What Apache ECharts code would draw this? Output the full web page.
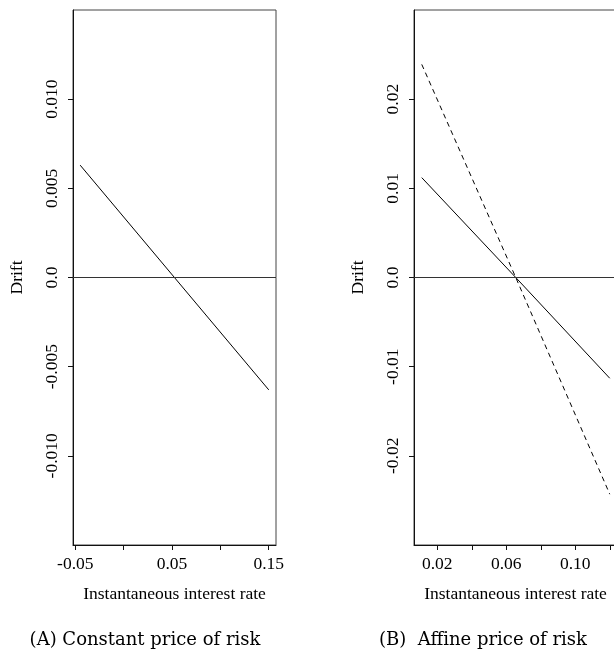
<!DOCTYPE html>
<html>
<head>
<meta charset="utf-8">
<script src="https://cdn.jsdelivr.net/npm/echarts@6/dist/echarts.min.js"></script>
<style>
html,body{margin:0;padding:0;background:#fff;overflow:hidden;width:614px;height:651px;}
#c{width:622px;height:651px;}
</style>
</head>
<body>
<div id="c"></div>
<script>
// Panel A: constant price of risk
const rateA = [-0.045, 0.0525, 0.15];
const driftA = [0.0063, 0.0, -0.0063];
// Panel B: affine price of risk
const rateB = [0.011, 0.0655, 0.12];
const driftBSolid = [0.0112, 0.0, -0.0113];
const driftBDashed = [0.0239, 0.0, -0.0243];

// Tick positions and labels
const xTicksA = [-0.05, 0, 0.05, 0.10, 0.15];
const xLabelValsA = [-0.05, 0.05, 0.15];
const xLabelsA = ['-0.05', '0.05', '0.15'];
const yTicksA = [-0.010, -0.005, 0, 0.005, 0.010];
const yLabelsA = ['-0.010', '-0.005', '0.0', '0.005', '0.010'];

const xTicksB = [0.02, 0.04, 0.06, 0.08, 0.10, 0.12];
const xLabelValsB = [0.02, 0.06, 0.10];
const xLabelsB = ['0.02', '0.06', '0.10'];
const yTicksB = [-0.02, -0.01, 0, 0.01, 0.02];
const yLabelsB = ['-0.02', '-0.01', '0.0', '0.01', '0.02'];

const captionA = '(A) Constant price of risk';
const captionB = '(B)  Affine price of risk';
const xName = 'Instantaneous interest rate';
const yName = 'Drift';

function pairs(xs, ys) { return xs.map((x, i) => [x, ys[i]]); }
function lookup(vals, labels) {
  return function (v) {
    let best = 0, bd = Infinity;
    vals.forEach((t, i) => { const d = Math.abs(t - v); if (d < bd) { bd = d; best = i; } });
    return bd < 1e-6 ? labels[best] : '';
  };
}

const FONT = 'Liberation Serif';
const FS = 17.5;
const INK = '#111';
const BOX = '#444';

function xAxis(gi, min, max, ticks, lvals, labels) {
  return {
    type: 'value', gridIndex: gi, min: min, max: max,
    name: xName, nameLocation: 'middle', nameGap: 40,
    nameTextStyle: { fontFamily: FONT, fontSize: FS, color: '#000' },
    axisLine: { show: true, onZero: false, lineStyle: { color: INK, width: 1 } },
    axisTick: { show: true, length: 5, inside: false, customValues: ticks, lineStyle: { color: INK, width: 1 } },
    axisLabel: { show: true, margin: 10, customValues: lvals, formatter: lookup(lvals, labels),
      fontFamily: FONT, fontSize: FS, color: '#000' },
    splitLine: { show: false }
  };
}
function yAxis(gi, min, max, ticks, labels) {
  return {
    type: 'value', gridIndex: gi, min: min, max: max,
    name: yName, nameLocation: 'middle', nameGap: 47, nameRotate: 90,
    nameTextStyle: { fontFamily: FONT, fontSize: FS, color: '#000' },
    axisLine: { show: true, onZero: false, lineStyle: { color: INK, width: 1 } },
    axisTick: { show: true, length: 5, inside: false, customValues: ticks, lineStyle: { color: INK, width: 1 } },
    axisLabel: { show: true, rotate: 90, margin: 12, customValues: ticks, formatter: lookup(ticks, labels),
      fontFamily: FONT, fontSize: FS, color: '#000' },
    splitLine: { show: false }
  };
}
function zeroLine() {
  return {
    silent: true, symbol: ['none', 'none'], label: { show: false },
    lineStyle: { color: '#333', width: 1, type: 'solid' },
    data: [{ yAxis: 0 }]
  };
}

const chart = echarts.init(document.getElementById('c'), null, { renderer: 'canvas' });
chart.setOption({
  animation: false,
  backgroundColor: '#fff',
  grid: [
    { left: 73, top: 10, width: 203, height: 535, show: true, borderColor: BOX, borderWidth: 1, backgroundColor: 'transparent' },
    { left: 414, top: 10, width: 203, height: 535, show: true, borderColor: BOX, borderWidth: 1, backgroundColor: 'transparent' }
  ],
  xAxis: [
    xAxis(0, -0.0524, 0.1575, xTicksA, xLabelValsA, xLabelsA),
    xAxis(1, 0.0065, 0.1242, xTicksB, xLabelValsB, xLabelsB)
  ],
  yAxis: [
    yAxis(0, -0.015, 0.015, yTicksA, yLabelsA),
    yAxis(1, -0.03, 0.03, yTicksB, yLabelsB)
  ],
  series: [
    { type: 'line', xAxisIndex: 0, yAxisIndex: 0, data: pairs(rateA, driftA), showSymbol: false,
      lineStyle: { color: '#000', width: 1 }, markLine: zeroLine() },
    { type: 'line', xAxisIndex: 1, yAxisIndex: 1, data: pairs(rateB, driftBSolid), showSymbol: false,
      lineStyle: { color: '#000', width: 1 }, markLine: zeroLine() },
    { type: 'line', xAxisIndex: 1, yAxisIndex: 1, data: pairs(rateB, driftBDashed), showSymbol: false,
      lineStyle: { color: '#000', width: 1, type: [5, 4] } }
  ],
  graphic: [
    { type: 'text', x: 145, y: 640, style: { text: captionA, fill: '#000', font: '18px "DejaVu Serif"', textAlign: 'center', textVerticalAlign: 'middle' } },
    { type: 'text', x: 483, y: 640, style: { text: captionB, fill: '#000', font: '18px "DejaVu Serif"', textAlign: 'center', textVerticalAlign: 'middle' } }
  ]
});
</script>
</body>
</html>
